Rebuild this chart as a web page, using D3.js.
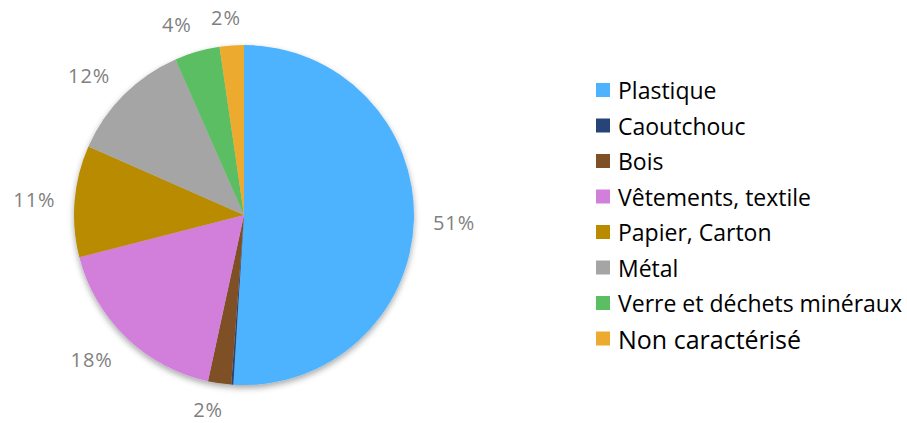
<!DOCTYPE html>
<html>
<head>
<meta charset="utf-8">
<script src="https://cdn.jsdelivr.net/npm/d3@7"></script>
<style>
  body { margin: 0; background: #fff; }
  text { font-family: "Open Sans", Lato, sans-serif; }
</style>
</head>
<body>
<script>
// categories and shares (%)
var categories = ["Plastique", "Caoutchouc", "Bois", "Vêtements, textile",
                  "Papier, Carton", "Métal", "Verre et déchets minéraux", "Non caractérisé"];
var shares = [51.0, 0.2, 2.2, 17.6, 10.6, 11.8, 4.3, 2.3];
var labels = ["51%", "", "2%", "18%", "11%", "12%", "4%", "2%"];
var colors = ["#4db3ff", "#264478", "#7f5026", "#d17fda",
              "#b88b00", "#a5a5a5", "#5bbe63", "#ecab2e"];

var width = 907, height = 423;
var cx = 244, cy = 215, radius = 170;

var data = categories.map(function(c, i) {
  return {name: c, value: shares[i], label: labels[i], color: colors[i]};
});

var svg = d3.select("body").append("svg")
    .attr("width", width)
    .attr("height", height);

// soft shadow under the pie
var defs = svg.append("defs");
var f = defs.append("filter").attr("id", "shadow")
    .attr("x", "-20%").attr("y", "-20%").attr("width", "140%").attr("height", "140%");
f.append("feGaussianBlur").attr("in", "SourceAlpha").attr("stdDeviation", 3);
f.append("feOffset").attr("dx", 0).attr("dy", 3).attr("result", "blur");
f.append("feComponentTransfer").append("feFuncA").attr("type", "linear").attr("slope", 0.35);
var merge = f.append("feMerge");
merge.append("feMergeNode");
merge.append("feMergeNode").attr("in", "SourceGraphic");

var pie = d3.pie()
    .value(function(d) { return d.value; })
    .sort(null);

var arc = d3.arc()
    .innerRadius(0)
    .outerRadius(radius);

// anchor points just outside the pie edge
var labelArc = d3.arc()
    .innerRadius(radius + 19)
    .outerRadius(radius + 19);

var arcs = pie(data);

var g = svg.append("g")
    .attr("transform", "translate(" + cx + "," + cy + ")");

g.append("g")
    .attr("filter", "url(#shadow)")
  .selectAll("path")
    .data(arcs)
  .enter().append("path")
    .attr("d", arc)
    .attr("fill", function(d) { return d.data.color; });

// labels outside the end: the box hangs off the anchor point
var fontSize = 20;
g.selectAll(".lbl")
    .data(arcs.filter(function(d) { return d.data.label; }))
  .enter().append("text")
    .attr("class", "lbl")
    .attr("text-anchor", "middle")
    .attr("dominant-baseline", "central")
    .style("font-size", fontSize + "px")
    .style("letter-spacing", "1px")
    .style("fill", "#7f7f7f")
    .text(function(d) { return d.data.label; })
    .each(function(d) {
      var a = (d.startAngle + d.endAngle) / 2;
      var p = labelArc.centroid(d);
      var w = this.getComputedTextLength(), h = fontSize;
      var sx = Math.sign(Math.sin(a)) * Math.min(1, Math.abs(Math.sin(a)) * 4);
      var y = p[1] - Math.cos(a) * h / 2 + 1;
      // keep the label inside the picture
      y = Math.min(y, height - cy - 14);
      d3.select(this)
        .attr("x", p[0] + sx * w / 2)
        .attr("y", y);
    });

// legend
var legend = svg.append("g")
    .attr("transform", "translate(596,90)");

var rows = legend.selectAll(".row")
    .data(data)
  .enter().append("g")
    .attr("class", "row")
    .attr("transform", function(d, i) { return "translate(0," + (i * 35.5) + ")"; });

rows.append("rect")
    .attr("x", 0)
    .attr("y", -7)
    .attr("width", 14)
    .attr("height", 14)
    .attr("fill", function(d) { return d.color; });

rows.append("text")
    .attr("x", 22)
    .attr("dominant-baseline", "central")
    .style("font-size", function(d, i) { return i == 7 ? "25px" : "23px"; })
    .style("fill", "#000")
    .text(function(d) { return d.name; });
</script>
</body>
</html>
